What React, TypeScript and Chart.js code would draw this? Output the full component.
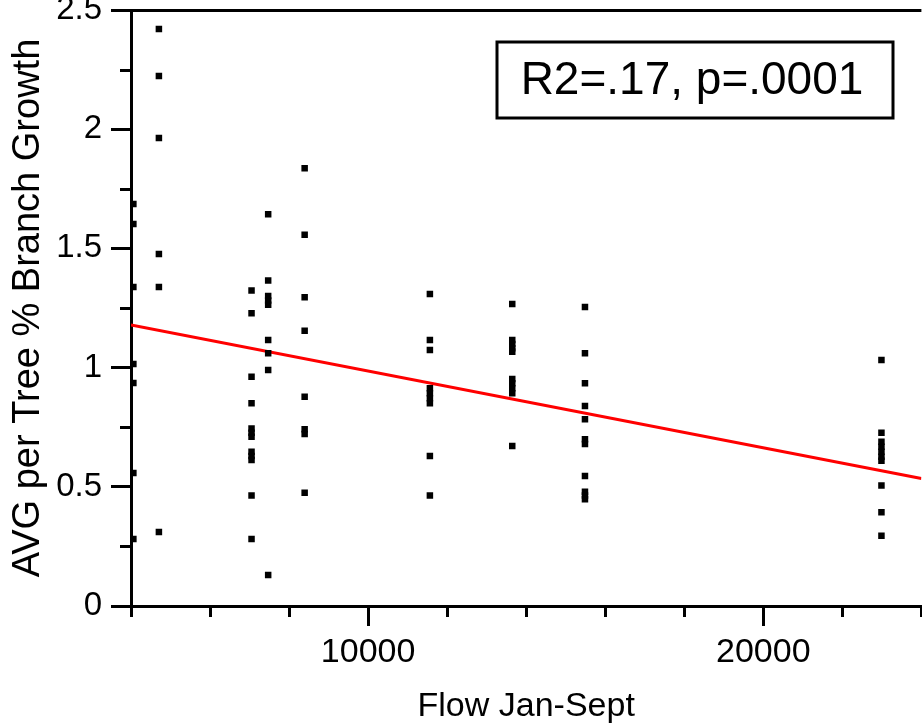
import { useEffect, useRef } from "react";
import { Chart, registerables } from "chart.js";

Chart.register(...registerables);

const FONT = "'Liberation Sans', Arial, Helvetica, sans-serif";

// Flow Jan-Sept value for each measured group of trees
const flowGroups = [4060, 4706, 7050, 7471, 8394, 11563, 13647, 15487, 22989];

// AVG per Tree % Branch Growth at each flow group
const growthG1 = [1.686, 1.602, 1.338, 1.015, 0.935, 0.558, 0.281];
const growthG2 = [2.42, 2.223, 1.963, 1.477, 1.338, 0.31];
const growthG3 = [1.323, 1.228, 0.962, 0.85, 0.745, 0.727, 0.71, 0.647, 0.629, 0.612, 0.463, 0.281];
const growthG4 = [1.643, 1.365, 1.3, 1.281, 1.264, 1.116, 1.06, 0.99, 0.13];
const growthG5 = [1.836, 1.557, 1.295, 1.155, 0.878, 0.741, 0.721, 0.475];
const growthG6 = [1.309, 1.116, 1.074, 0.913, 0.892, 0.871, 0.85, 0.629, 0.463];
const growthG7 = [1.267, 1.116, 1.099, 1.081, 1.067, 0.952, 0.934, 0.913, 0.892, 0.671];
const growthG8 = [1.254, 1.06, 0.934, 0.839, 0.783, 0.699, 0.68, 0.545, 0.479, 0.463, 0.448];
const growthG9 = [1.032, 0.727, 0.689, 0.668, 0.647, 0.626, 0.609, 0.505, 0.393, 0.295];
const growthGroups = [growthG1, growthG2, growthG3, growthG4, growthG5, growthG6, growthG7, growthG8, growthG9];

// Fitted regression line end points
const fitFlow = [4000, 24000];
const fitGrowth = [1.179, 0.535];

// Labelled ticks
const xTickLabels = [10000, 20000];
const yTickLabels = [0, 0.5, 1, 1.5, 2, 2.5];

const annotationText = "R2=.17, p=.0001";
const xTitle = "Flow Jan-Sept";
const yTitle = "AVG per Tree % Branch Growth";

const isLabelled = (list: number[], v: number) => list.some((t) => Math.abs(t - v) < 1e-6);

export default function App() {
  const ref = useRef<HTMLCanvasElement | null>(null);

  useEffect(() => {
    if (!ref.current) return;

    const points: { x: number; y: number }[] = [];
    flowGroups.forEach((fx, i) => {
      growthGroups[i].forEach((gy) => points.push({ x: fx, y: gy }));
    });
    const fit = fitFlow.map((fx, i) => ({ x: fx, y: fitGrowth[i] }));

    const minorTicks = {
      id: "minorTicks",
      afterDatasetsDraw(chart: any) {
        const ctx = chart.ctx;
        const { top, left, right } = chart.chartArea;
        const xs = chart.scales.x;
        const ys = chart.scales.y;
        ctx.save();
        ctx.strokeStyle = "#000";
        ctx.lineWidth = 3;
        xs.ticks.forEach((t: any) => {
          if (isLabelled(xTickLabels, t.value)) return;
          const px = Math.round(xs.getPixelForValue(t.value)) + 0.5;
          ctx.beginPath();
          ctx.moveTo(px, xs.top);
          ctx.lineTo(px, xs.top + 11);
          ctx.stroke();
        });
        ys.ticks.forEach((t: any) => {
          if (isLabelled(yTickLabels, t.value)) return;
          const py = Math.round(ys.getPixelForValue(t.value)) + 0.5;
          ctx.beginPath();
          ctx.moveTo(ys.right, py);
          ctx.lineTo(ys.right - 11, py);
          ctx.stroke();
        });
        ctx.beginPath();
        ctx.moveTo(left - 1.5, top + 0.5);
        ctx.lineTo(right, top + 0.5);
        ctx.stroke();
        ctx.restore();
      },
      afterDraw(chart: any) {
        const ctx = chart.ctx;
        ctx.save();
        ctx.fillStyle = "#fff";
        ctx.fillRect(497, 42, 396, 76);
        ctx.strokeStyle = "#000";
        ctx.lineWidth = 3;
        ctx.strokeRect(497, 42, 396, 76);
        ctx.fillStyle = "#000";
        ctx.font = `46px ${FONT}`;
        ctx.textAlign = "center";
        ctx.textBaseline = "middle";
        ctx.fillText(annotationText, 692, 81);
        ctx.restore();
      },
    };

    const chart = new Chart(ref.current, {
      type: "scatter",
      data: {
        datasets: [
          {
            data: points,
            pointStyle: "rect",
            pointRadius: 4.6,
            pointHoverRadius: 4.6,
            pointBorderWidth: 0,
            backgroundColor: "#000",
            borderColor: "#000",
            showLine: false,
          },
          {
            data: fit,
            showLine: true,
            borderColor: "#ff0000",
            borderWidth: 3,
            pointRadius: 0,
            backgroundColor: "#ff0000",
          },
        ],
      },
      options: {
        animation: false,
        responsive: false,
        devicePixelRatio: 1,
        layout: { padding: { top: 10, left: 0, right: 2, bottom: 0 } },
        plugins: { legend: { display: false }, tooltip: { enabled: false } },
        scales: {
          x: {
            type: "linear",
            position: "bottom",
            min: 4000,
            max: 24000,
            ticks: {
              stepSize: 2000,
              autoSkip: false,
              maxRotation: 0,
              color: "#000",
              padding: 6,
              font: { family: FONT, size: 34 },
              callback: (v: any) => (isLabelled(xTickLabels, Number(v)) ? String(v) : ""),
            },
            grid: {
              drawOnChartArea: false,
              drawTicks: true,
              tickLength: 20,
              tickWidth: 3,
              tickColor: (c: any) => (c.tick && isLabelled(xTickLabels, c.tick.value) ? "#000" : "rgba(0,0,0,0)"),
            },
            border: { display: true, color: "#000", width: 3 },
            title: {
              display: true,
              text: xTitle,
              color: "#000",
              font: { family: FONT, size: 34 },
              padding: { top: 0, bottom: 0 },
            },
            afterFit: (s: any) => {
              s.height = 121;
              s.paddingLeft = 0;
              s.paddingRight = 0;
            },
          },
          y: {
            type: "linear",
            min: 0,
            max: 2.5,
            ticks: {
              stepSize: 0.25,
              autoSkip: false,
              color: "#000",
              padding: 9,
              font: { family: FONT, size: 33 },
              callback: (v: any) => (isLabelled(yTickLabels, Number(v)) ? String(v) : ""),
            },
            grid: {
              drawOnChartArea: false,
              drawTicks: true,
              tickLength: 20,
              tickWidth: 3,
              tickColor: (c: any) => (c.tick && isLabelled(yTickLabels, c.tick.value) ? "#000" : "rgba(0,0,0,0)"),
            },
            border: { display: true, color: "#000", width: 3 },
            title: {
              display: true,
              text: yTitle,
              color: "#000",
              font: { family: FONT, size: 38 },
              padding: { top: 6, bottom: 0 },
            },
            afterFit: (s: any) => {
              s.width = 131;
              s.paddingTop = 0;
              s.paddingBottom = 0;
            },
          },
        },
      },
      plugins: [minorTicks],
    });

    return () => chart.destroy();
  }, []);

  return (
    <div
      style={{
        position: "fixed",
        left: 0,
        top: 0,
        width: 922,
        height: 727,
        overflow: "hidden",
        background: "#fff",
      }}
    >
      <canvas ref={ref} width={926} height={727} style={{ display: "block", width: 926, height: 727 }} />
    </div>
  );
}
